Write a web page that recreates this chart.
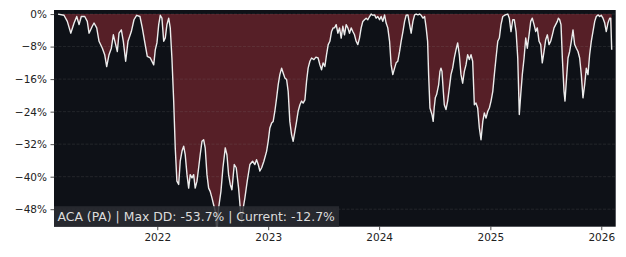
<!DOCTYPE html>
<html>
<head>
<meta charset="utf-8">
<script src="https://cdn.jsdelivr.net/npm/d3@7"></script>
<style>
  body { margin: 0; background: #fff; }
  svg { display: block; font-family: 'DejaVu Sans', sans-serif; }
</style>
</head>
<body>
<div id="chart"></div>
<script>
// time as decimal years, drawdown in %
const years = [
  2021.105, 2021.159, 2021.189, 2021.220, 2021.250, 2021.274, 2021.295, 2021.315, 2021.346, 2021.369,
  2021.385, 2021.414, 2021.430, 2021.454, 2021.475, 2021.505, 2021.526, 2021.544, 2021.565, 2021.586,
  2021.604, 2021.625, 2021.640, 2021.655, 2021.676, 2021.694, 2021.715, 2021.736, 2021.766, 2021.790,
  2021.814, 2021.844, 2021.865, 2021.886, 2021.910, 2021.937, 2021.968, 2021.982, 2021.997, 2022.013,
  2022.027, 2022.042, 2022.058, 2022.072, 2022.087, 2022.103, 2022.117, 2022.132, 2022.148, 2022.162,
  2022.177, 2022.193, 2022.207, 2022.223, 2022.238, 2022.252, 2022.268, 2022.283, 2022.297, 2022.313,
  2022.328, 2022.342, 2022.358, 2022.373, 2022.387, 2022.403, 2022.418, 2022.432, 2022.448, 2022.463,
  2022.477, 2022.493, 2022.508, 2022.523, 2022.538, 2022.553, 2022.574, 2022.592, 2022.613, 2022.628,
  2022.643, 2022.658, 2022.673, 2022.694, 2022.712, 2022.733, 2022.748, 2022.760, 2022.775, 2022.790,
  2022.811, 2022.835, 2022.859, 2022.880, 2022.895, 2022.910, 2022.925, 2022.941, 2022.961, 2022.986,
  2023.000, 2023.015, 2023.031, 2023.045, 2023.060, 2023.076, 2023.090, 2023.105, 2023.121, 2023.135,
  2023.150, 2023.166, 2023.180, 2023.195, 2023.211, 2023.225, 2023.241, 2023.256, 2023.270, 2023.286,
  2023.301, 2023.315, 2023.331, 2023.346, 2023.360, 2023.376, 2023.391, 2023.412, 2023.430, 2023.450,
  2023.466, 2023.481, 2023.495, 2023.511, 2023.526, 2023.541, 2023.556, 2023.571, 2023.586, 2023.598,
  2023.613, 2023.628, 2023.643, 2023.658, 2023.673, 2023.688, 2023.703, 2023.718, 2023.733, 2023.748,
  2023.763, 2023.778, 2023.793, 2023.808, 2023.823, 2023.838, 2023.853, 2023.868, 2023.883, 2023.898,
  2023.914, 2023.928, 2023.943, 2023.959, 2023.973, 2023.988, 2024.004, 2024.018, 2024.033, 2024.049,
  2024.063, 2024.078, 2024.094, 2024.108, 2024.123, 2024.139, 2024.153, 2024.168, 2024.184, 2024.198,
  2024.214, 2024.229, 2024.243, 2024.259, 2024.274, 2024.288, 2024.304, 2024.319, 2024.333, 2024.349,
  2024.364, 2024.378, 2024.394, 2024.409, 2024.423, 2024.436, 2024.445, 2024.457, 2024.475, 2024.486,
  2024.495, 2024.505, 2024.517, 2024.535, 2024.547, 2024.556, 2024.565, 2024.577, 2024.586, 2024.601,
  2024.616, 2024.631, 2024.646, 2024.661, 2024.676, 2024.691, 2024.706, 2024.721, 2024.736, 2024.751,
  2024.766, 2024.781, 2024.796, 2024.811, 2024.826, 2024.841, 2024.856, 2024.871, 2024.886, 2024.901,
  2024.916, 2024.932, 2024.946, 2024.961, 2024.977, 2024.991, 2025.006, 2025.022, 2025.036, 2025.051,
  2025.067, 2025.081, 2025.096, 2025.112, 2025.135, 2025.157, 2025.171, 2025.186, 2025.202, 2025.216,
  2025.232, 2025.247, 2025.261, 2025.274, 2025.288, 2025.304, 2025.319, 2025.333, 2025.349, 2025.364,
  2025.378, 2025.394, 2025.409, 2025.423, 2025.439, 2025.454, 2025.468, 2025.484, 2025.499, 2025.514,
  2025.529, 2025.544, 2025.559, 2025.574, 2025.589, 2025.604, 2025.613, 2025.625, 2025.637, 2025.649,
  2025.664, 2025.673, 2025.685, 2025.700, 2025.715, 2025.730, 2025.745, 2025.760, 2025.775, 2025.790,
  2025.805, 2025.820, 2025.835, 2025.850, 2025.865, 2025.880, 2025.895, 2025.910, 2025.925, 2025.941,
  2025.955, 2025.970, 2025.986, 2026.000, 2026.015, 2026.031, 2026.045, 2026.060, 2026.076, 2026.085,
  2026.094
]

const drawdown = [
  0, -0.3, -1.8, -4.7, -2.2, -0.6, -2.6, -0.6, -0.6, -1.8,
  -4.7, -3.0, -2.2, -3.4, -6.7, -8.4, -10.0, -12.9, -10.0, -8.4,
  -5.1, -7.5, -9.2, -4.7, -3.9, -6.7, -11.6, -6.7, -4.3, -1.4,
  -0.3, -0.6, -3.4, -6.7, -10.4, -10.8, -12.5, -8.8, -7.1, -2.6,
  -0.3, -1.0, -6.7, -5.9, -2.6, -1.0, -3.4, -10.8, -21.4, -32.9,
  -41.1, -41.9, -36.2, -33.7, -32.5, -34.6, -39.5, -42.8, -39.5, -40.3,
  -39.5, -42.8, -41.1, -37.8, -34.6, -31.3, -30.9, -32.9, -39.5, -42.8,
  -43.6, -45.2, -46.9, -48.5, -53.7, -47.7, -43.6, -37.8, -32.9, -34.6,
  -39.5, -41.9, -43.2, -37.0, -37.8, -42.8, -47.7, -51.1, -47.7, -45.2,
  -41.1, -37.0, -36.2, -37.0, -35.8, -37.0, -38.6, -37.8, -36.2, -33.7,
  -31.3, -28.0, -26.8, -26.4, -23.9, -20.6, -17.4, -14.9, -13.3, -14.5,
  -15.7, -16.1, -19.0, -26.4, -29.7, -31.3, -28.8, -26.4, -23.9, -22.3,
  -21.4, -21.9, -21.1, -16.5, -13.3, -11.6, -10.8, -11.2, -10.6, -10.8,
  -12.5, -13.7, -12.0, -12.9, -10.0, -7.5, -6.7, -4.3, -3.4, -3.4,
  -2.6, -4.7, -3.4, -5.9, -3.0, -5.1, -2.6, -3.4, -4.7, -3.4,
  -4.3, -5.1, -6.7, -7.5, -5.9, -3.4, -1.8, -1.4, -1.0, -1.4,
  -0.6, 0, -0.3, -0.2, -1.0, -0.6, -1.4, -0.6, -1.8, -0.2,
  -2.2, -3.4, -6.7, -12.5, -14.9, -13.3, -12.0, -11.6, -9.2, -6.7,
  -4.3, -1.8, -0.3, -0.2, -2.6, -4.7, -1.8, -0.2, 0, -0.2,
  0, -0.3, -1.0, -0.6, -3.4, -6.7, -14.9, -23.1, -24.7, -26.4,
  -23.1, -20.6, -19.8, -17.4, -14.1, -13.3, -14.1, -19.0, -22.3, -23.5,
  -21.4, -18.2, -14.9, -13.3, -10.8, -8.8, -7.1, -10.0, -14.9, -17.0,
  -14.1, -12.5, -10.0, -11.2, -10.0, -11.6, -22.3, -21.9, -23.1, -28.0,
  -30.9, -26.4, -24.3, -25.6, -23.9, -23.1, -21.4, -19.0, -14.9, -10.8,
  -6.7, -5.9, -2.6, -0.6, -0.2, 0, -1.0, -4.3, -1.4, -1.4,
  -4.3, -10.8, -24.7, -19.8, -14.9, -10.8, -5.9, -8.4, -5.1, -1.8,
  -1.0, -2.6, -4.3, -3.4, -6.7, -7.5, -12.0, -9.2, -6.3, -5.1,
  -7.5, -6.7, -5.1, -3.4, -2.6, -1.8, -1.0, -1.4, -2.6, -10.8,
  -19.0, -21.4, -16.5, -10.8, -9.2, -6.7, -3.9, -7.5, -8.4, -9.2,
  -10.8, -14.9, -20.6, -17.4, -13.3, -14.9, -10.0, -6.7, -4.3, -1.8,
  -0.6, -0.2, -0.6, -0.3, -1.0, -2.2, -4.3, -2.2, -1.0, -1.0,
  -8.8
]

const yTicks = [0, -8, -16, -24, -32, -40, -48]
const xTickYears = [2022, 2023, 2024, 2025, 2026]
const ticker = 'ACA (PA)'
const maxDD = -53.7
const currentDD = -12.7

const toDate = y => {
  const yr = Math.floor(y)
  const start = Date.UTC(yr, 0, 1)
  const end = Date.UTC(yr + 1, 0, 1)
  return new Date(start + (y - yr) * (end - start))
}

const data = years.map((t, i) => ({ date: toDate(t), dd: drawdown[i] }))

const margin = { top: 10, left: 54, right: 10.3, bottom: 30.3 }
const totalW = 626
const totalH = 257
const width = totalW - margin.left - margin.right
const height = totalH - margin.top - margin.bottom

const svg = d3
  .select('#chart')
  .append('svg')
  .attr('width', totalW)
  .attr('height', totalH)
  .append('g')
  .attr('transform', 'translate(' + margin.left + ',' + margin.top + ')')

const x = d3
  .scaleUtc()
  .domain([toDate(2021.069), toDate(2026.13)])
  .range([0, width])

const y = d3
  .scaleLinear()
  .domain([-52.3, 1.0])
  .range([height, 0])

svg
  .append('defs')
  .append('clipPath')
  .attr('id', 'plot-clip')
  .append('rect')
  .attr('width', width)
  .attr('height', height)

// plot background
svg
  .append('rect')
  .attr('width', width)
  .attr('height', height)
  .attr('fill', '#0e1117')

const plot = svg.append('g').attr('clip-path', 'url(#plot-clip)')

const area = d3
  .area()
  .x(d => x(d.date))
  .y0(y(0))
  .y1(d => y(d.dd))

plot
  .append('path')
  .datum(data)
  .attr('fill', '#561f27')
  .attr('d', area)

// grid
plot
  .selectAll('.grid')
  .data(yTicks)
  .join('line')
  .attr('class', 'grid')
  .attr('x1', 0)
  .attr('x2', width)
  .attr('y1', d => y(d))
  .attr('y2', d => y(d))
  .attr('stroke', '#8a8a8a')
  .attr('stroke-opacity', 0.22)
  .attr('stroke-width', 0.8)
  .attr('stroke-dasharray', '3,1.5')

const line = d3
  .line()
  .x(d => x(d.date))
  .y(d => y(d.dd))

plot
  .append('path')
  .datum(data)
  .attr('fill', 'none')
  .attr('stroke', '#ececec')
  .attr('stroke-width', 1.4)
  .attr('stroke-linejoin', 'round')
  .attr('d', line)

// axes
const yAxis = g =>
  g
    .call(
      d3
        .axisLeft(y)
        .tickValues(yTicks)
        .tickSize(3.5)
        .tickPadding(3.5)
        .tickFormat(d => (d < 0 ? '\u2212' + Math.abs(d) : d) + '%')
    )
    .call(g => g.select('.domain').remove())
    .call(g => g.selectAll('.tick line').attr('stroke', '#222').attr('stroke-width', 0.8))
    .call(g =>
      g
        .selectAll('text')
        .attr('fill', '#222')
        .style('font-family', 'DejaVu Sans')
        .style('font-size', '10.5px')
    )

const xAxis = g =>
  g
    .attr('transform', `translate(0,${height})`)
    .call(
      d3
        .axisBottom(x)
        .tickValues(xTickYears.map(toDate))
        .tickSize(3.5)
        .tickPadding(3.5)
        .tickFormat(d3.utcFormat('%Y'))
    )
    .call(g => g.select('.domain').remove())
    .call(g => g.selectAll('.tick line').attr('stroke', '#222').attr('stroke-width', 0.8))
    .call(g =>
      g
        .selectAll('text')
        .attr('fill', '#222')
        .style('font-family', 'DejaVu Sans')
        .style('font-size', '10.5px')
    )

svg.append('g').call(yAxis)
svg.append('g').call(xAxis)

// info label
const info = svg.append('g').attr('clip-path', 'url(#plot-clip)')
const label = info
  .append('text')
  .attr('x', 3.5)
  .attr('y', height - 6)
  .attr('fill', '#dcdcdc')
  .style('font-family', 'DejaVu Sans')
  .style('font-size', '12.4px')
  .text(`${ticker} | Max DD: ${maxDD.toFixed(1)}% | Current: ${currentDD.toFixed(1)}%`)

const bb = label.node().getBBox()
info
  .insert('rect', 'text')
  .attr('x', bb.x - 4)
  .attr('y', bb.y - 2.5)
  .attr('width', bb.width + 8)
  .attr('height', bb.height + 8)
  .attr('fill', '#2a2d33')
  .attr('fill-opacity', 0.85)
</script>
</body>
</html>
